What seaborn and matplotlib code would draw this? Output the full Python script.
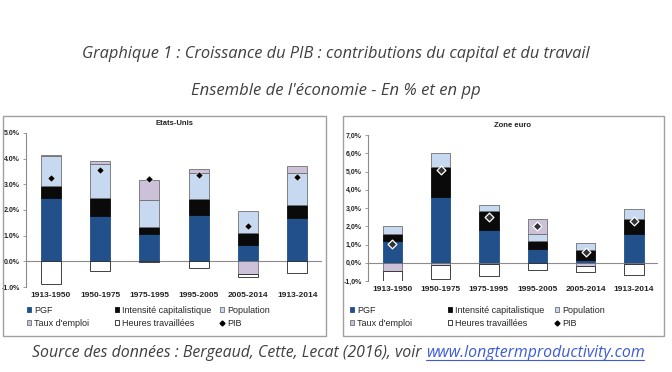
import numpy as np
import matplotlib.pyplot as plt
import seaborn as sns
from matplotlib.patches import Rectangle, Patch
from matplotlib.lines import Line2D

# periodes et contributions (en points de %)
periodes = ['1913-1950', '1950-1975', '1975-1995', '1995-2005', '2005-2014', '1913-2014']
series = ['PGF', 'Intensité capitalistique', 'Population', "Taux d'emploi", 'Heures travaillées']

us_pgf = [2.46, 1.77, 1.07, 1.82, 0.62, 1.69]
us_capital = [0.47, 0.68, 0.26, 0.61, 0.48, 0.50]
us_population = [1.17, 1.36, 1.06, 1.03, 0.85, 1.27]
us_emploi = [0.05, 0.10, 0.77, 0.13, -0.48, 0.24]
us_heures = [-0.89, -0.36, -0.02, -0.25, -0.12, -0.44]
us_pib = [3.26, 3.55, 3.20, 3.35, 1.37, 3.29]

ze_pgf = [1.17, 3.58, 1.82, 0.73, 0.13, 1.56]
ze_capital = [0.39, 1.69, 1.04, 0.48, 0.59, 0.81]
ze_population = [0.44, 0.73, 0.33, 0.39, 0.36, 0.55]
ze_emploi = [-0.44, -0.15, -0.05, 0.82, -0.17, -0.05]
ze_heures = [-0.55, -0.72, -0.66, -0.39, -0.31, -0.60]
ze_pib = [1.01, 5.08, 2.51, 2.02, 0.59, 2.28]

couleurs = ['#22508A', '#0A0A0A', '#C6D9F0', '#CCC1D9', '#FFFFFF']
bords = ['#22508A', '#0A0A0A', '#6F6F6F', '#6F6F6F', '#222222']

sns.set_theme(style='white')
plt.rcParams['font.family'] = ['Liberation Sans', 'DejaVu Sans']

W, H = 672, 372
fig = plt.figure(figsize=(W / 100, H / 100), dpi=100)


def px(x0, y0, x1, y1):
    # rectangle en pixels (origine en haut a gauche) -> coordonnees figure
    return [x0 / W, 1 - y1 / H, (x1 - x0) / W, (y1 - y0) / H]


def panneau(rect, titre, valeurs, pib, ylim, fmt, marker_kw):
    ax = fig.add_axes(rect)
    pos = np.zeros(len(periodes))
    neg = np.zeros(len(periodes))
    for vals, c, e in zip(valeurs, couleurs, bords):
        v = np.array(vals)
        bas = np.where(v >= 0, pos, neg)
        sns.barplot(x=periodes, y=v, bottom=bas, ax=ax, color=c, edgecolor=e,
                    linewidth=0.6, width=0.4, saturation=1, errorbar=None)
        pos = pos + np.clip(v, 0, None)
        neg = neg + np.clip(v, None, 0)
    sns.scatterplot(x=np.arange(len(periodes)), y=pib, ax=ax, marker='D',
                    zorder=5, legend=False, **marker_kw)
    ax.axhline(0, color='#8C8C8C', lw=0.8, zorder=0.5)
    ax.set_ylim(*ylim)
    ax.set_xlim(-0.5, len(periodes) - 0.5)
    ticks = np.arange(ylim[0], ylim[1] + 0.5, 1)
    ax.set_yticks(ticks)
    ax.set_yticklabels([fmt(t) for t in ticks], fontsize=5, fontweight='bold',
                       color='#222222')
    ax.set_xticks(range(len(periodes)))
    ax.set_xticklabels(periodes, fontsize=6, fontweight='bold', color='#222222')
    ax.tick_params(axis='x', length=0, pad=3.5)
    ax.tick_params(axis='y', length=2.5, width=0.6, color='#8C8C8C', left=True, pad=2)
    for s in ['top', 'right', 'bottom']:
        ax.spines[s].set_visible(False)
    ax.spines['left'].set_color('#8C8C8C')
    ax.spines['left'].set_linewidth(0.8)
    ax.set_xlabel('')
    ax.set_ylabel('')
    ax.set_title(titre, fontsize=5.5, fontweight='bold', color='#222222', pad=6)
    return ax


panneau(px(26, 133, 322, 287), 'Etats-Unis',
        [us_pgf, us_capital, us_population, us_emploi, us_heures], us_pib,
        (-1, 5), lambda t: f'{t:.1f}%',
        dict(s=14, color='black', edgecolor='white', linewidth=0.4))
panneau(px(368, 135, 658, 281), 'Zone euro',
        [ze_pgf, ze_capital, ze_population, ze_emploi, ze_heures], ze_pib,
        (-1, 7), lambda t: f'{t:.1f}%'.replace('.', ','),
        dict(s=20, color='#333333', edgecolor='white', linewidth=0.9))

# cadres des deux graphiques
for x0, x1 in [(3, 326), (343, 664)]:
    fig.patches.append(Rectangle((x0 / W, 1 - 336 / H), (x1 - x0) / W, 220 / H,
                                 transform=fig.transFigure, fill=False,
                                 edgecolor='#A0A0A0', lw=1))

# legendes (trois colonnes par graphique)
poignees = [Patch(facecolor=c, edgecolor=e, lw=0.6) for c, e in zip(couleurs, bords)]
poignees.append(Line2D([], [], marker='D', ls='', color='black', markersize=2.5))
libelles = series + ['PIB']
colonnes = [(0, 3), (1, 4), (2, 5)]
for xs in [(22, 110, 215), (345, 443, 550)]:
    for (i, j), x in zip(colonnes, xs):
        fig.legend([poignees[i], poignees[j]], [libelles[i], libelles[j]],
                   loc='upper left', bbox_to_anchor=(x / W, 1 - 301 / H),
                   frameon=False, handlelength=0.55, handleheight=0.55,
                   handletextpad=0.3, labelspacing=0.45, borderpad=0,
                   prop={'family': 'Liberation Sans', 'size': 6.5})

# titres
fig.text(0.5, 1 - 54 / H,
         'Graphique 1 : Croissance du PIB : contributions du capital et du travail',
         ha='center', va='center', fontsize=11.8, style='italic',
         family='Open Sans', color='#404040')
fig.text(0.5, 1 - 91 / H, "Ensemble de l'économie - En % et en pp",
         ha='center', va='center', fontsize=12, style='italic',
         family='Open Sans', color='#404040')

# source avec lien
src = fig.text(32 / W, 1 - 353 / H,
               'Source des données : Bergeaud, Cette, Lecat (2016), voir ',
               ha='left', va='center', fontsize=11.4, style='italic',
               family='Open Sans', color='#404040')
fig.canvas.draw()
r = fig.canvas.get_renderer()
bb = src.get_window_extent(r)
lien = fig.text(bb.x1 / W, 1 - 353 / H, 'www.longtermproductivity.com',
                ha='left', va='center', fontsize=11.4, style='italic',
                family='Open Sans', color='#3D5BD9')
fig.canvas.draw()
bl = lien.get_window_extent(r)
fig.add_artist(Line2D([bl.x0 / W, bl.x1 / W], [(bl.y0 + 1.5) / H] * 2,
                      color='#3D5BD9', lw=0.8, transform=fig.transFigure))

fig.savefig('out.png', dpi=100)
